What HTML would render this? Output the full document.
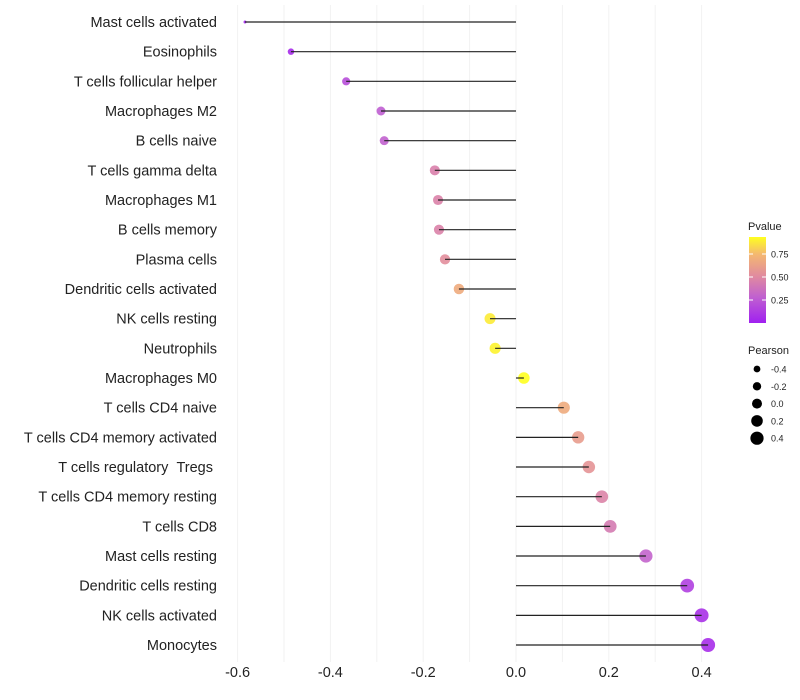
<!DOCTYPE html>
<html><head><meta charset="utf-8"><style>
body{margin:0;background:#fff}
svg{display:block;font-family:"Liberation Sans",sans-serif}
</style></head><body>
<svg id="chart" width="800" height="700" viewBox="0 0 800 700">
<defs>
<linearGradient id="pgrad" x1="0" y1="1" x2="0" y2="0">
<stop offset="0" stop-color="#a020f0"/>
<stop offset="0.3" stop-color="#c060d0"/>
<stop offset="0.54" stop-color="#e08aa0"/>
<stop offset="0.8" stop-color="#f4b870"/>
<stop offset="1" stop-color="#ffff20"/>
</linearGradient>
</defs>
<g id="grid"></g>
<g id="marks"></g>
<g id="ylab"></g>
<g id="xlab"></g>
<g id="legend">
<text x="748" y="230" font-size="11" fill="#222">Pvalue</text>
<rect x="749" y="237" width="17" height="86" fill="url(#pgrad)"/>
<g id="cbticks"></g>
<text x="748" y="354" font-size="11" fill="#222">Pearson</text>
<g id="sizeleg"></g>
</g>
</svg>
<script>
const cells=["Mast cells activated","Eosinophils","T cells follicular helper","Macrophages M2","B cells naive","T cells gamma delta","Macrophages M1","B cells memory","Plasma cells","Dendritic cells activated","NK cells resting","Neutrophils","Macrophages M0","T cells CD4 naive","T cells CD4 memory activated","T cells regulatory\u00a0\u00a0Tregs\u00a0","T cells CD4 memory resting","T cells CD8","Mast cells resting","Dendritic cells resting","NK cells activated","Monocytes"];
const pearson=[-0.584,-0.485,-0.366,-0.291,-0.284,-0.175,-0.168,-0.166,-0.153,-0.123,-0.056,-0.045,0.017,0.103,0.134,0.157,0.185,0.203,0.28,0.369,0.40,0.414];
const pvalue=[0.02,0.05,0.2,0.27,0.29,0.45,0.46,0.46,0.52,0.68,0.88,0.9,0.95,0.68,0.6,0.55,0.47,0.42,0.3,0.14,0.08,0.06];
const xTicks=[-0.6,-0.4,-0.2,0.0,0.2,0.4];
const cbTicks=[0.25,0.5,0.75];
const sizeLeg=[-0.4,-0.2,0.0,0.2,0.4];
const NS="http://www.w3.org/2000/svg";
const X=v=>516+v*464;
const Y=i=>22+i*29.667;
const R=v=>1.5+5.5*Math.sqrt(Math.max(0,(v+0.584)/0.998));
const LR=v=>5+v*4;
const PY=p=>323-p*92;
function lerp(a,b,t){return a+(b-a)*t}
const stops=[[0,[160,32,240]],[0.28,[192,96,208]],[0.5,[224,138,160]],[0.75,[244,184,112]],[0.93,[255,255,32]]];
function col(p){for(let k=1;k<stops.length;k++){if(p<=stops[k][0]||k==stops.length-1){const a=stops[k-1],b=stops[k];const t=Math.max(0,Math.min(1,(p-a[0])/(b[0]-a[0])));return `rgb(${a[1].map((c,j)=>Math.round(lerp(c,b[1][j],t))).join(',')})`;}}}
function el(t,a,p){const e=document.createElementNS(NS,t);for(const k in a)e.setAttribute(k,a[k]);p.appendChild(e);return e;}
const grid=document.getElementById('grid');
for(let v=-0.6;v<=0.45;v+=0.1){const g=el('line',{x1:X(v),x2:X(v),y1:5,y2:662,stroke:'#f2f2f2','stroke-width':1},grid);

}
const marks=document.getElementById('marks'),ylab=document.getElementById('ylab');
cells.forEach((c,i)=>{
const pt=el('circle',{cx:X(pearson[i]),cy:Y(i),r:R(pearson[i]),fill:col(pvalue[i]),'fill-opacity':0.9},marks);


const ln=el('line',{x1:X(0),x2:X(pearson[i]),y1:Y(i),y2:Y(i),stroke:'#222','stroke-width':1.2},marks);


const t=el('text',{x:217,y:Y(i)+5,'text-anchor':'end','font-size':14.5,fill:'#222'},ylab);t.textContent=c;


});
const xlab=document.getElementById('xlab');
xTicks.forEach(v=>{const t=el('text',{x:X(v),y:677,'text-anchor':'middle','font-size':14.5,fill:'#222'},xlab);t.textContent=v.toFixed(1);

});
const cb=document.getElementById('cbticks');
cbTicks.forEach(p=>{el('line',{x1:749,x2:753,y1:PY(p),y2:PY(p),stroke:'#fff'},cb);el('line',{x1:762,x2:766,y1:PY(p),y2:PY(p),stroke:'#fff'},cb);
const t=el('text',{x:771,y:PY(p)+3.5,'font-size':9,fill:'#222'},cb);t.textContent=p.toFixed(2);

});
const sl=document.getElementById('sizeleg');
sizeLeg.forEach((v,k)=>{const y=369+k*17.3;
const c=el('circle',{cx:757,cy:y,r:LR(v),fill:'#000'},sl);


const t=el('text',{x:771,y:y+3.5,'font-size':9,fill:'#222'},sl);t.textContent=v.toFixed(1);

});
</script>
</body></html>
